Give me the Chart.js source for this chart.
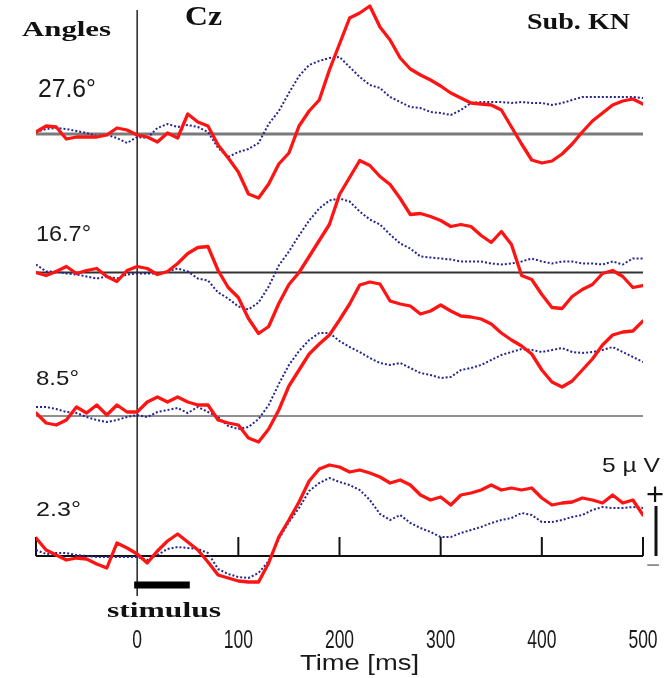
<!DOCTYPE html>
<html>
<head>
<meta charset="utf-8">
<script src="https://cdn.jsdelivr.net/npm/chart.js@4.4.1/dist/chart.umd.min.js"></script>
<style>
  html, body { margin: 0; padding: 0; background: #fff; }
  #wrap { width: 666px; height: 678px; }
</style>
</head>
<body>
<div id="wrap"><canvas id="erp"></canvas></div>
<script>
// ====== DATA ======
// time axis (ms), one sample every 10 ms
const TIMES = [
  -100, -90, -80, -70, -60, -50, -40, -30, -20, -10,
  0, 10, 20, 30, 40, 50, 60, 70, 80, 90,
  100, 110, 120, 130, 140, 150, 160, 170, 180, 190,
  200, 210, 220, 230, 240, 250, 260, 270, 280, 290,
  300, 310, 320, 330, 340, 350, 360, 370, 380, 390,
  400, 410, 420, 430, 440, 450, 460, 470, 480, 490,
  500
];
const X_TICKS = [0, 100, 200, 300, 400, 500];
const AXIS_TICKS = [-100, 100, 200, 300, 400, 500];

const ANGLES = ['27.6°', '16.7°', '8.5°', '2.3°'];
// baseline of each trace on the stacked axis (uV)
const OFFSETS = [46.4, 32.55, 18.2, 4.2];

// amplitudes in uV
const RED_276 = [
  0.2, 0.8, 0.7, -0.5, -0.3, -0.3, -0.3, -0.1, 0.6, 0.4,
  -0.1, -0.3, -0.8, 0.1, -0.4, 2.0, 1.2, 0.8, -1.1, -2.4,
  -3.8, -6.0, -6.4, -5.0, -3.0, -1.9, 0.8, 2.3, 3.4, 6.4,
  9.0, 11.6, 12.1, 12.8, 10.7, 9.4, 7.6, 6.5, 5.9, 5.4,
  4.8, 4.1, 3.6, 3.1, 3.0, 2.9, 2.4, 0.7, -1.0, -2.6,
  -2.9, -2.7, -2.0, -1.0, 0.2, 1.3, 2.1, 2.9, 3.3, 3.5,
  3.0
];
const BLUE_276 = [
  0.2, 0.5, 0.6, 0.5, 0.3, 0.1, -0.2, -0.1, -0.4, -0.9,
  -0.3, -0.4, 0.6, 1.0, 0.7, 0.9, 0.7, 0.2, -1.4, -2.3,
  -1.8, -1.5, -0.9, 1.0, 2.3, 4.1, 5.8, 6.9, 7.3, 7.6,
  7.7, 6.7, 5.7, 4.9, 4.6, 3.7, 3.2, 2.7, 2.6, 2.2,
  2.1, 1.9, 2.4, 3.1, 3.2, 3.2, 3.2, 3.1, 3.2, 3.1,
  3.1, 2.9, 3.1, 3.4, 3.7, 3.7, 3.7, 3.7, 3.7, 3.7,
  3.6
];
const RED_167 = [
  0.0, -0.3, 0.1, 0.6, -0.1, 0.2, 0.4, -0.4, -0.9, 0.2,
  0.6, 0.4, -0.2, 0.1, 0.9, 1.9, 2.5, 2.6, 0.2, -1.5,
  -2.5, -4.6, -6.1, -5.4, -3.1, -1.2, 0.0, 1.6, 3.2, 4.8,
  7.8, 9.5, 11.2, 10.7, 9.6, 8.8, 7.4, 5.8, 5.9, 5.6,
  5.2, 4.6, 4.8, 4.6, 3.7, 3.0, 4.1, 2.8, -0.3, -0.7,
  -2.2, -3.5, -3.6, -2.4, -1.7, -1.2, -0.1, 0.2, -0.4, -1.5,
  -1.3
];
const BLUE_167 = [
  0.8, 0.1, 0.1, -0.1, -0.2, -0.4, -0.6, -0.4, -0.6, -0.2,
  -0.1, -0.1, -0.1, 0.1, 0.4, 0.1, -0.6, -0.8, -2.0, -2.6,
  -3.4, -3.7, -3.0, -1.4, 0.7, 2.1, 3.7, 5.2, 6.4, 7.2,
  7.4, 7.1, 6.1, 5.3, 4.8, 3.8, 2.9, 2.4, 1.6, 1.5,
  1.4, 1.3, 1.1, 1.1, 1.1, 0.9, 0.8, 0.9, 1.1, 1.4,
  1.1, 0.9, 1.1, 1.1, 0.9, 0.9, 0.8, 1.1, 0.8, 1.4,
  1.4
];
const RED_85 = [
  0.3, -0.7, -0.9, -0.4, 0.9, 0.3, 1.1, 0.1, 1.1, 0.4,
  0.4, 1.4, 1.9, 1.4, 1.9, 1.4, 1.1, 1.1, -0.4, -0.7,
  -0.9, -2.2, -2.6, -1.3, 0.6, 3.0, 4.6, 6.2, 7.2, 8.1,
  9.6, 11.2, 13.1, 13.4, 13.2, 11.5, 11.2, 11.0, 10.2, 10.5,
  11.1, 10.5, 10.0, 9.9, 9.7, 9.2, 8.3, 7.6, 7.0, 6.2,
  4.6, 3.4, 2.9, 3.5, 4.6, 5.7, 7.1, 8.1, 8.4, 8.5,
  9.5
];
const BLUE_85 = [
  0.9, 0.9, 0.7, 0.4, 0.3, -0.1, -0.4, -0.6, -0.4, -0.1,
  0.1, -0.1, 0.4, 0.6, 0.8, 0.3, 0.9, 0.4, -0.1, -1.0,
  -1.3, -1.1, -0.3, 1.1, 3.2, 5.1, 6.5, 7.6, 8.3, 8.3,
  7.5, 6.9, 6.4, 5.8, 5.3, 5.1, 5.3, 4.8, 4.3, 4.1,
  3.8, 3.9, 4.6, 4.8, 5.1, 5.6, 6.1, 6.4, 6.7, 6.6,
  6.4, 6.6, 6.8, 6.4, 6.3, 6.4, 6.6, 6.9, 6.4, 5.9,
  5.4
];
const RED_23 = [
  1.8, 0.6, 0.1, -0.4, -0.2, -0.3, -0.8, -1.2, 1.3, 0.8,
  0.2, -0.7, 0.5, 1.5, 2.2, 1.4, 0.6, -0.6, -1.9, -2.2,
  -2.5, -2.6, -2.6, -0.7, 1.9, 3.6, 5.4, 7.5, 8.7, 9.1,
  8.9, 8.4, 8.6, 8.3, 7.9, 7.3, 7.6, 7.1, 6.1, 5.6,
  5.9, 5.1, 6.1, 6.3, 6.6, 7.1, 6.6, 6.8, 6.6, 6.8,
  5.8, 5.1, 5.3, 5.4, 5.8, 5.6, 5.3, 6.1, 5.3, 5.6,
  4.1
];
const BLUE_23 = [
  0.6, 0.2, 0.3, 0.3, 0.1, 0.0, -0.1, -0.1, -0.1, -0.1,
  -0.1, -0.4, 0.1, 0.7, 0.9, 0.8, 0.7, 0.3, -1.3, -1.8,
  -2.1, -2.2, -1.7, -0.5, 1.7, 3.4, 4.8, 6.5, 7.3, 7.8,
  7.4, 7.1, 6.6, 5.6, 4.2, 3.6, 4.1, 3.3, 2.8, 2.4,
  1.9, 1.9, 2.3, 2.6, 2.9, 3.3, 3.6, 3.8, 4.3, 4.1,
  3.4, 3.4, 3.6, 3.9, 4.1, 4.6, 4.9, 4.8, 4.8, 4.9,
  4.8
];

const RED = [RED_276, RED_167, RED_85, RED_23];
const BLUE = [BLUE_276, BLUE_167, BLUE_85, BLUE_23];

const STIMULUS = [0, 52];   // ms
const SCALE_UV = 5;

// ====== STYLE ======
const RED_COLOR = '#ff1414';
const BLUE_COLOR = '#25258f';
const BASE_COLORS = ['#7a7a7a', '#333333', '#6a6a6a', '#111111'];
const BASE_WIDTHS = [3, 2, 1.5, 2];
const SANS = '"Liberation Sans", Arial, sans-serif';
const SERIF = '"Liberation Serif", "Times New Roman", serif';
// label positions in canvas px: [left, baseline, width, font]
const ANGLE_LABELS = [
  [38, 96.5, 58, '25px ' + SANS],
  [36, 240.5, 55, '22px ' + SANS],
  [36, 385, 43, '21px ' + SANS],
  [36, 516, 45, '20px ' + SANS]
];

// ====== HELPERS ======
function linha(ctx, x1, y1, x2, y2) {
  ctx.beginPath();
  ctx.moveTo(x1, y1);
  ctx.lineTo(x2, y2);
  ctx.stroke();
}

// draws text stretched to a given width
function textoAjustado(ctx, txt, left, baseline, width, font, color) {
  ctx.save();
  ctx.font = font;
  ctx.fillStyle = color || '#111';
  ctx.textAlign = 'left';
  ctx.textBaseline = 'alphabetic';
  const w = ctx.measureText(txt).width;
  ctx.translate(left, baseline);
  ctx.scale(width / w, 1);
  ctx.fillText(txt, 0, 0);
  ctx.restore();
}

// draws centred text with a horizontal squeeze factor
function textoCentrado(ctx, txt, cx, baseline, sx, font, color) {
  ctx.save();
  ctx.font = font;
  ctx.fillStyle = color || '#111';
  ctx.textAlign = 'center';
  ctx.textBaseline = 'alphabetic';
  ctx.translate(cx, baseline);
  ctx.scale(sx, 1);
  ctx.fillText(txt, 0, 0);
  ctx.restore();
}

const serie = (vals, k) => TIMES.map((t, i) => ({ x: t, y: OFFSETS[k] + vals[i] }));

// ====== DECORATION PLUGIN ======
const decor = {
  id: 'decor',
  beforeDatasetsDraw(chart) {
    const { ctx, chartArea: area, scales: { x, y } } = chart;
    ctx.save();
    ctx.lineCap = 'butt';

    // baselines
    OFFSETS.forEach((off, k) => {
      ctx.strokeStyle = BASE_COLORS[k];
      ctx.lineWidth = BASE_WIDTHS[k];
      const py = y.getPixelForValue(off);
      linha(ctx, x.getPixelForValue(TIMES[0]), py, x.getPixelForValue(TIMES[TIMES.length - 1]), py);
    });

    // tick marks on the bottom trace
    const base = y.getPixelForValue(OFFSETS[3]);
    const tickTop = y.getPixelForValue(OFFSETS[3] + 1.9);
    ctx.strokeStyle = '#111';
    ctx.lineWidth = 2;
    AXIS_TICKS.forEach(t => {
      const px = x.getPixelForValue(t);
      linha(ctx, px, base, px, tickTop);
    });

    // stimulus onset line
    const x0 = x.getPixelForValue(0);
    ctx.strokeStyle = '#222';
    ctx.lineWidth = 1.5;
    linha(ctx, x0, area.top + 10, x0, area.bottom - 2);

    // stimulus bar
    const sy = y.getPixelForValue(OFFSETS[3] - 2.9);
    ctx.strokeStyle = '#000';
    ctx.lineWidth = 7;
    linha(ctx, x.getPixelForValue(STIMULUS[0]) - 3, sy, x.getPixelForValue(STIMULUS[1]), sy);

    // 5 uV scale bar
    const bx = area.right + 13;
    ctx.lineWidth = 3;
    ctx.strokeStyle = '#111';
    linha(ctx, bx, y.getPixelForValue(OFFSETS[3]), bx, y.getPixelForValue(OFFSETS[3] + SCALE_UV));
    ctx.restore();
  },
  afterDraw(chart) {
    const { ctx, chartArea: area, scales: { x, y } } = chart;

    // x tick labels (narrow digits)
    x.ticks.forEach(tk => {
      textoCentrado(ctx, String(tk.value), x.getPixelForValue(tk.value), 648, 0.7, '25px ' + SANS, '#1a1a1a');
    });
    textoAjustado(ctx, 'Time [ms]', 300, 670, 119, '22px ' + SANS, '#1a1a1a');

    textoAjustado(ctx, 'Angles', 22, 36, 89, 'bold 22px ' + SERIF);
    textoAjustado(ctx, 'Cz', 185, 25, 37, 'bold 28px ' + SERIF);
    textoAjustado(ctx, 'Sub. KN', 527, 28.5, 103, 'bold 23px ' + SERIF);
    ANGLES.forEach((a, k) => {
      const [l, b, w, f] = ANGLE_LABELS[k];
      textoAjustado(ctx, a, l, b, w, f, '#1a1a1a');
    });
    textoAjustado(ctx, '5 \u00b5 V', 602, 471.5, 58, '21px ' + SANS, '#1a1a1a');
    textoAjustado(ctx, 'stimulus', 107, 616.5, 114, 'bold 22px ' + SERIF);

    // + / - signs of the scale bar
    const bx = area.right + 12;
    ctx.save();
    ctx.textAlign = 'center';
    ctx.textBaseline = 'middle';
    ctx.font = '31px ' + SANS;
    ctx.fillStyle = '#111';
    ctx.fillText('+', bx, y.getPixelForValue(OFFSETS[3] + 6.0));
    ctx.font = '24px ' + SANS;
    ctx.fillStyle = '#888';
    ctx.fillText('\u2212', bx - 2, y.getPixelForValue(OFFSETS[3] - 1.0));
    ctx.restore();
  }
};

// ====== CHART ======
const datasets = [];
RED.forEach((vals, k) => datasets.push({
  label: 'red ' + ANGLES[k],
  data: serie(vals, k),
  borderColor: RED_COLOR,
  borderWidth: 3.3,
  borderJoinStyle: 'round',
  borderCapStyle: 'round',
  pointRadius: 0,
  tension: 0,
  order: 1
}));
BLUE.forEach((vals, k) => datasets.push({
  label: 'blue ' + ANGLES[k],
  data: serie(vals, k),
  borderColor: BLUE_COLOR,
  borderWidth: 2,
  borderDash: [2, 2],
  pointRadius: 0,
  tension: 0,
  order: 2
}));

new Chart(document.getElementById('erp'), {
  type: 'line',
  data: { datasets },
  plugins: [decor],
  options: {
    responsive: true,
    maintainAspectRatio: false,
    animation: false,
    layout: { padding: { left: 36, right: 23, top: 0, bottom: 0 } },
    plugins: {
      legend: { display: false },
      tooltip: { enabled: false }
    },
    scales: {
      x: {
        type: 'linear',
        min: -100,
        max: 500,
        border: { display: false },
        grid: { display: false, drawTicks: false },
        afterBuildTicks: s => { s.ticks = X_TICKS.map(v => ({ value: v })); },
        afterFit: s => { s.height = 80; s.paddingLeft = 0; s.paddingRight = 0; },
        ticks: { display: false }
      },
      y: {
        display: false,
        min: 0,
        max: 59.8
      }
    }
  }
});
</script>
</body>
</html>
